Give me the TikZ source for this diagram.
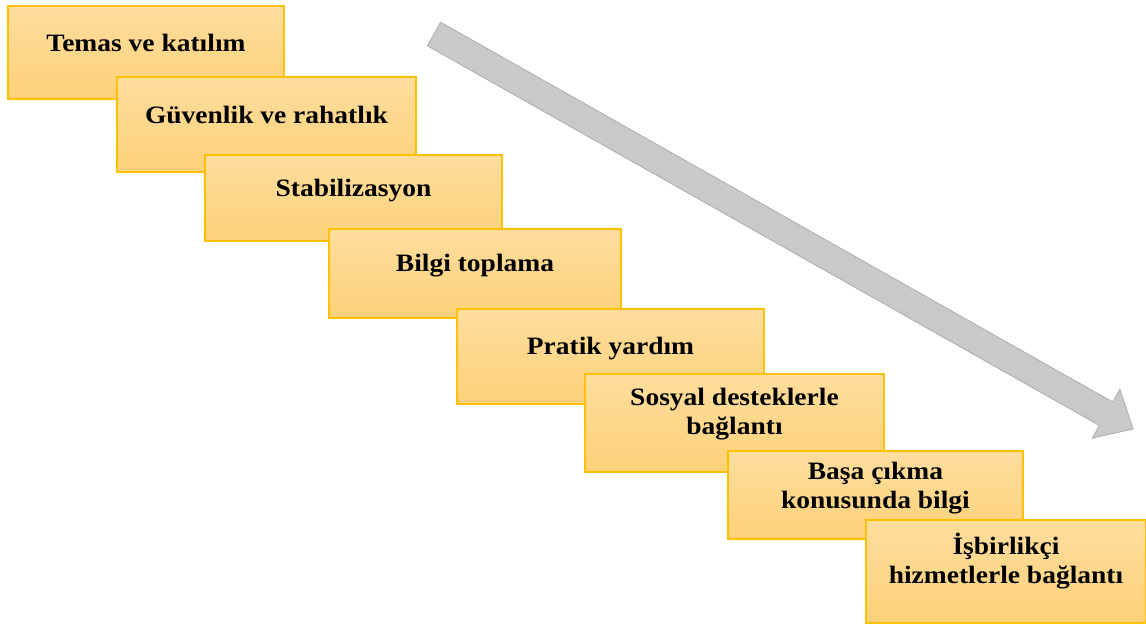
\documentclass[tikz,border=0pt]{standalone}
\usepackage{fontspec}
\setmainfont{Liberation Serif}
\newfontfamily\boxfont[FakeStretch=1.1]{Liberation Serif}
\usetikzlibrary{calc}
\definecolor{boxtop}{RGB}{254,221,158}
\definecolor{boxbot}{RGB}{252,209,120}
\definecolor{boxline}{RGB}{255,192,0}
\definecolor{arrfill}{RGB}{201,201,201}
\definecolor{arrline}{RGB}{172,172,172}
\tikzset{
  stepbox/.style={rectangle, draw=boxline, line width=1.5pt, top color=boxtop, bottom color=boxbot, inner sep=0pt},
  steptext/.style={font=\boxfont\bfseries\fontsize{25}{28.5}\selectfont, align=center, anchor=base, inner sep=0pt, text=black},
  bigarrow/.style={fill=arrfill, draw=arrline, line width=0.8pt, line join=miter}
}
\begin{document}
\begin{tikzpicture}[x=1pt,y=-1pt]
\useasboundingbox (0,0) rectangle (1146,625);
% arrow
\coordinate (a1) at (440.6,22.2);
\coordinate (a2) at (1112.7,402.0);
\coordinate (a3) at (1119.9,389.3);
\coordinate (a4) at (1133.1,429.0);
\coordinate (a5) at (1092.3,438.1);
\coordinate (a6) at (1099.5,425.5);
\coordinate (a7) at (427.4,45.8);
\draw[bigarrow] (a1) -- (a2) -- (a3) -- (a4) -- (a5) -- (a6) -- (a7) -- cycle;
% boxes
\node[stepbox, minimum width=276pt, minimum height=93pt] (b1) at (146,52.5) {};
\node[steptext] (t1) at ($(b1.north)+(0,46)$) {Temas ve katılım};
\node[stepbox, minimum width=299pt, minimum height=95pt] (b2) at (266.5,124.5) {};
\node[steptext] (t2) at ($(b2.north)+(0,47)$) {Güvenlik ve rahatlık};
\node[stepbox, minimum width=297pt, minimum height=86pt] (b3) at (353.5,198) {};
\node[steptext] (t3) at ($(b3.north)+(0,42)$) {Stabilizasyon};
\node[stepbox, minimum width=292pt, minimum height=89pt] (b4) at (475,273.5) {};
\node[steptext] (t4) at ($(b4.north)+(0,43)$) {Bilgi toplama};
\node[stepbox, minimum width=307pt, minimum height=95pt] (b5) at (610.5,356.5) {};
\node[steptext] (t5) at ($(b5.north)+(0,46)$) {Pratik yardım};
\node[stepbox, minimum width=299pt, minimum height=98pt] (b6) at (734.5,423) {};
\node[steptext] (t6) at ($(b6.north)+(0,61)$) {Sosyal desteklerle\\bağlantı};
\node[stepbox, minimum width=295pt, minimum height=88pt] (b7) at (875.5,495) {};
\node[steptext] (t7) at ($(b7.north)+(0,58)$) {Başa çıkma\\konusunda bilgi};
\node[stepbox, minimum width=280pt, minimum height=103pt] (b8) at (1006,571.5) {};
\node[steptext] (t8) at ($(b8.north)+(0,64)$) {İşbirlikçi\\hizmetlerle bağlantı};
\end{tikzpicture}
\end{document}
